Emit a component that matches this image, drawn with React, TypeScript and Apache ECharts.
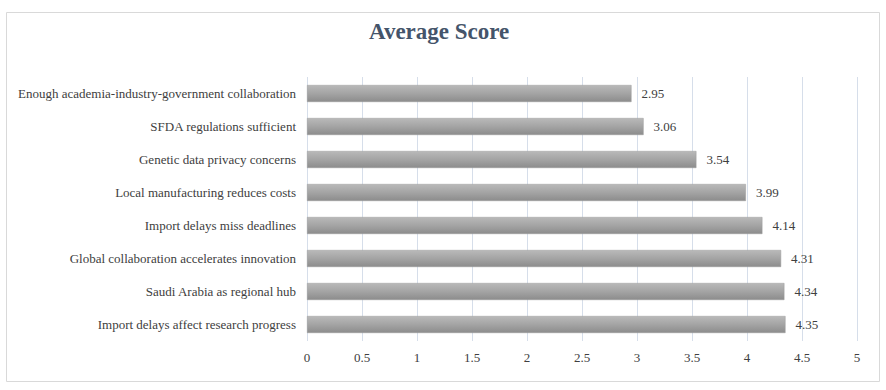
import React, { useEffect, useRef } from "react";
import * as echarts from "echarts";

const categories = [
  "Import delays affect research progress",
  "Saudi Arabia as regional hub",
  "Global collaboration accelerates innovation",
  "Import delays miss deadlines",
  "Local manufacturing reduces costs",
  "Genetic data privacy concerns",
  "SFDA regulations sufficient",
  "Enough academia-industry-government collaboration",
];
const values = [4.35, 4.34, 4.31, 4.14, 3.99, 3.54, 3.06, 2.95];
const titleText = "Average Score";

export default function App() {
  const ref = useRef<HTMLDivElement>(null);
  useEffect(() => {
    if (!ref.current) return;
    const chart = echarts.init(ref.current, null, { renderer: "svg" });
    chart.setOption({
      animation: false,
      title: {
        text: titleText,
        left: 364,
        top: 15,
        textStyle: {
          fontFamily: "Liberation Serif",
          fontSize: 23,
          fontWeight: "bold",
          color: "#44546A",
        },
      },
      graphic: [
        {
          type: "rect",
          shape: { x: 6.5, y: 12.5, width: 873, height: 369 },
          style: { fill: "none", stroke: "#D9D9D9", lineWidth: 1 },
          silent: true,
        },
      ],
      grid: { left: 307, right: 29, top: 77, bottom: 49 },
      xAxis: {
        type: "value",
        min: 0,
        max: 5,
        interval: 0.5,
        axisLine: { show: false },
        axisTick: { show: false },
        splitLine: { lineStyle: { color: "#D6DEEA", width: 1 } },
        axisLabel: {
          fontFamily: "Liberation Serif",
          fontSize: 13,
          color: "#404040",
          margin: 10,
        },
      },
      yAxis: {
        type: "category",
        data: categories,
        axisLine: { show: false },
        axisTick: { show: false },
        axisLabel: {
          fontFamily: "Liberation Serif",
          fontSize: 13,
          color: "#404040",
          margin: 11,
        },
      },
      series: [
        {
          type: "bar",
          data: values,
          barWidth: 17,
          itemStyle: {
            color: new echarts.graphic.LinearGradient(0, 0, 0, 1, [
              { offset: 0, color: "#B9B9B9" },
              { offset: 0.5, color: "#A4A4A4" },
              { offset: 1, color: "#8C8C8C" },
            ]),
            borderColor: "#9A9A9A",
            borderWidth: 0.5,
          },
          label: {
            show: true,
            position: "right",
            distance: 10,
            fontFamily: "Liberation Serif",
            fontSize: 13,
            color: "#404040",
            formatter: (p: any) => p.value.toFixed(2),
          },
        },
      ],
    });
    return () => chart.dispose();
  }, []);
  return (
    <div
      ref={ref}
      style={{ position: "fixed", left: 0, top: 0, width: 886, height: 390, background: "#fff" }}
    />
  );
}
